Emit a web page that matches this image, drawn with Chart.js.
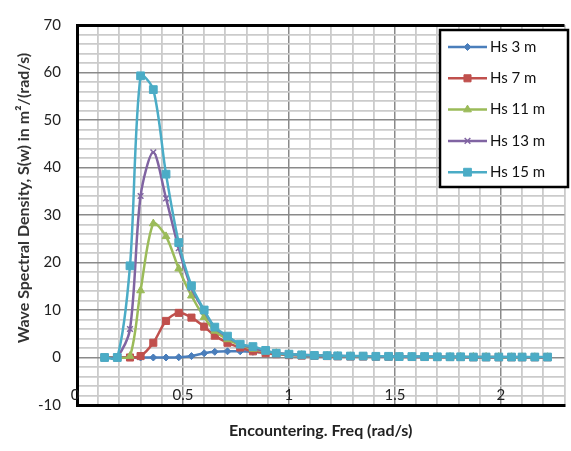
<!DOCTYPE html>
<html>
<head>
<meta charset="utf-8">
<script src="https://cdn.jsdelivr.net/npm/chart.js@4.4.0/dist/chart.umd.min.js"></script>
<style>
  html, body { margin: 0; padding: 0; background: #fff; }
  #wrap { width: 571px; height: 451px; }
</style>
</head>
<body>
<div id="wrap"><canvas id="spectrum"></canvas></div>
<script>
// encountering frequency (rad/s)
const freq = [0.13, 0.19, 0.25, 0.30, 0.36, 0.42, 0.48, 0.54, 0.60, 0.65, 0.71, 0.77, 0.83, 0.89, 0.94, 1.00,
  1.06, 1.12, 1.18, 1.23, 1.29, 1.35, 1.41, 1.47, 1.52, 1.58, 1.64, 1.70, 1.76, 1.81, 1.87, 1.93, 1.99,
  2.05, 2.10, 2.16, 2.22];

// S(w) for each significant wave height
const hs3 = [0, 0, 0, 0, 0, 0, 0.05, 0.3, 0.9, 1.2, 1.3, 1.3, 1.2, 1.0, 0.9, 0.7, 0.6, 0.5, 0.4, 0.35,
  0.3, 0.25, 0.2, 0.2, 0.15, 0.15, 0.1, 0.1, 0.1, 0.1, 0.05, 0.05, 0.05, 0.05, 0.05, 0.05, 0.05];
const hs7 = [0, 0, 0, 0.3, 3.1, 7.7, 9.4, 8.4, 6.5, 4.6, 3.1, 2.1, 1.3, 0.9, 0.7, 0.5, 0.4, 0.35, 0.3, 0.25,
  0.2, 0.2, 0.15, 0.15, 0.15, 0.1, 0.1, 0.1, 0.1, 0.1, 0.05, 0.05, 0.05, 0.05, 0.05, 0.05, 0.05];
const hs11 = [0, 0, 0.3, 14.1, 28.2, 25.5, 18.7, 13.0, 8.5, 5.6, 3.8, 2.6, 1.8, 1.2, 0.9, 0.6, 0.5, 0.4, 0.35, 0.3,
  0.25, 0.2, 0.2, 0.2, 0.15, 0.15, 0.15, 0.1, 0.1, 0.1, 0.1, 0.1, 0.1, 0.05, 0.05, 0.05, 0.05];
const hs13 = [0, 0.2, 6.0, 34.0, 43.2, 33.5, 23.0, 14.6, 9.8, 6.3, 4.3, 2.8, 2.0, 1.3, 0.9, 0.65, 0.5, 0.4, 0.35, 0.3,
  0.25, 0.25, 0.2, 0.2, 0.2, 0.15, 0.15, 0.15, 0.1, 0.1, 0.1, 0.1, 0.1, 0.1, 0.1, 0.05, 0.05];
const hs15 = [0, 0, 19.3, 59.3, 56.4, 38.6, 24.2, 15.1, 10.0, 6.4, 4.5, 2.8, 2.3, 1.5, 0.9, 0.7, 0.55, 0.45, 0.4, 0.35,
  0.3, 0.3, 0.25, 0.25, 0.2, 0.2, 0.2, 0.15, 0.15, 0.15, 0.1, 0.1, 0.1, 0.1, 0.1, 0.1, 0.1];

const seriesNames = ["Hs 3 m", "Hs 7 m", "Hs 11 m", "Hs 13 m", "Hs 15 m"];
const yTickLabels = [-10, 0, 10, 20, 30, 40, 50, 60, 70];
const xTickLabels = [0, 0.5, 1, 1.5, 2];

const FONT = "Lato, 'Liberation Sans', sans-serif";

// ===== STYLE PER SERIES =====
const styles = [
  { color: "#4a7ebb", point: "rectRot", r: 3.5 },
  { color: "#c0504d", point: "rect", r: 5 },
  { color: "#9bbb59", point: "triangle", r: 4.5 },
  { color: "#8064a2", point: "crossRot", r: 4 },
  { color: "#4bacc6", point: "rect", r: 5.5 }
];

const allSeries = [hs3, hs7, hs11, hs13, hs15];

const datasets = allSeries.map((vals, i) => ({
  label: seriesNames[i],
  data: vals.map((v, k) => ({ x: freq[k], y: v })),
  borderColor: styles[i].color,
  backgroundColor: styles[i].color,
  borderWidth: 2.5,
  pointStyle: styles[i].point,
  pointRadius: styles[i].r,
  pointBorderWidth: styles[i].point === "crossRot" ? 1.5 : 1,
  tension: 0.3,
  order: allSeries.length - i   // last series drawn on top
}));

const near = (a, b) => Math.abs(a - b) < 1e-6;

// ===== X TICK LABELS (sit just inside the plot, above the bottom axis) =====
const xLabels = {
  id: "xLabels",
  afterDatasetsDraw(chart) {
    const ctx = chart.ctx;
    const xs = chart.scales.x;
    ctx.save();
    ctx.font = "15px " + FONT;
    ctx.fillStyle = "#222";
    ctx.textAlign = "center";
    ctx.textBaseline = "middle";
    xTickLabels.forEach(t => {
      ctx.fillText(String(t), xs.getPixelForValue(t) - (t === 0 ? 2 : 0), chart.chartArea.bottom - 10);
    });
    ctx.restore();
  }
};

// ===== LEGEND BOX =====
const legendBox = {
  id: "legendBox",
  afterDatasetsDraw(chart) {
    const ctx = chart.ctx;
    const x0 = 440, y0 = 30, w = 128, h = 157;
    ctx.save();
    ctx.fillStyle = "#fff";
    ctx.fillRect(x0, y0, w, h);
    ctx.lineWidth = 2.5;
    ctx.strokeStyle = "#000";
    ctx.strokeRect(x0, y0, w, h);
    chart.data.datasets.forEach((ds, i) => {
      const y = y0 + 17 + i * 31.3;
      ctx.strokeStyle = ds.borderColor;
      ctx.fillStyle = ds.borderColor;
      ctx.lineWidth = ds.borderWidth;
      ctx.beginPath();
      ctx.moveTo(448, y);
      ctx.lineTo(487, y);
      ctx.stroke();
      ctx.lineWidth = ds.pointBorderWidth;
      Chart.helpers.drawPoint(ctx, { pointStyle: ds.pointStyle, radius: ds.pointRadius, borderWidth: ds.pointBorderWidth }, 467.5, y);
      ctx.fillStyle = "#111";
      ctx.font = "15px " + FONT;
      ctx.textBaseline = "middle";
      ctx.textAlign = "left";
      ctx.fillText(ds.label, 490, y);
    });
    ctx.restore();
  }
};

// ===== Y TITLE =====
const yTitle = {
  id: "yTitle",
  afterDraw(chart) {
    const ctx = chart.ctx;
    ctx.save();
    ctx.translate(24, 198);
    ctx.rotate(-Math.PI / 2);
    ctx.font = "bold 16px " + FONT;
    ctx.fillStyle = "#333";
    ctx.textAlign = "center";
    ctx.textBaseline = "middle";
    ctx.fillText("Wave Spectral Density, S(w) in m\u00b2/(rad/s)", 0, 0);
    ctx.restore();
  }
};

const whiteBg = {
  id: "whiteBg",
  beforeDraw(chart) {
    const ctx = chart.ctx;
    ctx.save();
    ctx.fillStyle = "#fff";
    ctx.fillRect(0, 0, chart.width, chart.height);
    ctx.restore();
  }
};

new Chart(document.getElementById("spectrum"), {
  type: "line",
  data: { datasets },
  plugins: [whiteBg, xLabels, legendBox, yTitle],
  options: {
    responsive: true,
    maintainAspectRatio: false,
    animation: false,
    layout: { padding: { top: 16, left: 0, right: 0, bottom: 0 } },
    plugins: { legend: { display: false }, tooltip: { enabled: false } },
    scales: {
      x: {
        type: "linear",
        min: 0,
        max: 2.3,
        afterFit: s => { s.height = 46; },
        ticks: {
          stepSize: 0.1,
          autoSkip: false,
          maxRotation: 0,
          display: false
        },
        grid: {
          drawTicks: false,
          color: c => xTickLabels.some(t => near(t, c.tick.value)) ? "#8a8a8a" : "#cbcbcb",
          lineWidth: c => xTickLabels.some(t => near(t, c.tick.value)) ? 1.5 : 1.8
        },
        border: { color: "#000", width: 3 },
        title: {
          display: true,
          text: "Encountering. Freq (rad/s)",
          color: "#222",
          font: { family: FONT, size: 16, weight: "bold" },
          padding: { top: 0, bottom: 11 }
        }
      },
      y: {
        min: -10,
        max: 70,
        afterFit: s => { s.width = 77; },
        ticks: {
          stepSize: 2,
          autoSkip: false,
          padding: 16,
          color: "#222",
          font: { family: FONT, size: 15 },
          callback: v => yTickLabels.includes(Math.round(v)) && near(v, Math.round(v)) ? String(Math.round(v)) : ""
        },
        grid: {
          drawTicks: false,
          color: c => {
            const v = c.tick.value;
            if (near(v, 70)) return "#000";
            return yTickLabels.some(t => near(t, v)) ? "#8a8a8a" : "#cbcbcb";
          },
          lineWidth: c => {
            const v = c.tick.value;
            if (near(v, 70)) return 3;
            return yTickLabels.some(t => near(t, v)) ? 1.5 : 1.8;
          }
        },
        border: { color: "#000", width: 3 }
      }
    }
  }
});
</script>
</body>
</html>
